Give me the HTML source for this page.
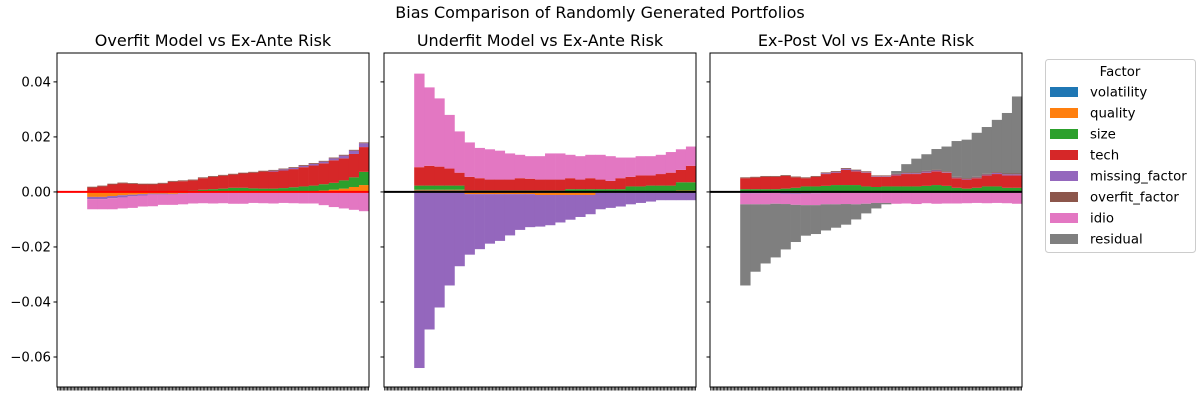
<!DOCTYPE html>
<html><head><meta charset="utf-8">
<style>
body{margin:0;background:#fff;}
svg text{font-family:"DejaVu Sans","Liberation Sans",sans-serif;fill:#000;}
</style></head>
<body>
<svg id="chart" width="1200" height="400" viewBox="0 0 1200 400" xmlns="http://www.w3.org/2000/svg">
<text x="600" y="18" font-size="16" text-anchor="middle">Bias Comparison of Randomly Generated Portfolios</text>
<g id="panels"></g>
<g id="legend"></g>
</svg>
<script>
// values in thousandths (x 0.001); 3 leading empty bars per panel
const factors = ["volatility","quality","size","tech","missing_factor","overfit_factor","idio","residual"];
const colors = ["#1f77b4","#ff7f0e","#2ca02c","#d62728","#9467bd","#8c564b","#e377c2","#7f7f7f"];
const yTicks = [0.04,0.02,0.00,-0.02,-0.04,-0.06];
const yTickLabels = ["0.04","0.02","0.00","−0.02","−0.04","−0.06"];
const panelTitles = ["Overfit Model vs Ex-Ante Risk","Underfit Model vs Ex-Ante Risk","Ex-Post Vol vs Ex-Ante Risk"];
const emptyBars = 3;

// Panel 1: Overfit
const p1_volatility = [0,0,0,0,0,0,-0.2,-0.2,-0.3,-0.2,0,0,0,0,0,0,0,0,0,0,0,0,0,0,0,0,0,0];
const p1_quality = [-1.8,-1.8,-1.5,-1.2,-1.0,-0.8,-0.4,-0.4,-0.4,-0.3,-0.2,0,0,0,0,0,0,0,0.2,0.2,0.2,0.2,0.3,0.5,0.8,1.2,1.8,2.5];
const p1_size = [0.2,0.2,0.2,0.2,0.2,0.2,0.2,0.2,0.2,0.3,0.5,0.8,1.0,1.2,1.5,1.5,1.3,1.2,1.0,1.2,1.5,1.8,2.0,2.3,2.5,3.0,3.5,4.8];
const p1_tech = [1.4,1.8,2.5,2.9,2.7,2.5,2.5,2.8,3.5,3.6,3.7,4.2,4.5,4.7,4.8,5.2,5.7,6.2,6.2,6.4,6.6,7.0,7.3,7.6,8.2,8.0,8.5,9.0];
const p1_missing = [-0.8,-0.8,-0.8,-0.8,-0.6,-0.5,-0.3,-0.3,-0.2,-0.2,0,0,0,0,0,0,0,0,0.3,0.4,0.4,0.5,0.6,0.6,0.7,1.0,1.2,1.4];
const p1_overfit = [0.3,0.3,0.3,0.3,0.3,0.3,0.3,0.3,0.3,0.3,0.3,0.3,0.3,0.3,0.3,0.3,0.3,0.3,0.3,0.3,0.3,0.3,0.3,0.3,0.3,0.3,0.3,0.3];
const p1_idio = [-3.7,-3.7,-4.0,-4.0,-4.2,-4.0,-4.3,-3.8,-3.8,-3.8,-4.0,-4.1,-4.2,-4.1,-4.3,-4.3,-4.0,-4.1,-4.2,-4.0,-4.1,-4.2,-4.2,-4.8,-5.5,-6.0,-6.5,-7.0];
const p1_residual = [0,0,0,0,0,0,0,0,0,0,0,0,0,0,0,0,0,0,0,0,0,0,0,0,0,0,0,0];

// Panel 2: Underfit
const p2_volatility = [0.5,0.5,0.5,0.5,0.5,0,0,0,0,0,0,0,-0.3,-0.3,-0.3,-0.3,-0.3,-0.3,-0.3,-0.3,-0.3,0,0,0,0,0,0,0];
const p2_quality = [0.3,0.3,0.3,0.3,0.3,-0.8,-0.8,-0.8,-0.8,-0.8,-0.8,-0.8,-0.8,-0.8,-0.8,-0.8,-0.8,-0.8,0,0,0,0,0,0.3,0.3,0.3,0.5,0.5];
const p2_size = [1.5,1.5,1.5,1.5,1.5,0.5,0.5,0.5,0.5,0.5,0.5,0.5,0.5,0.5,0.5,1.0,1.0,1.0,1.0,1.0,1.0,2.0,2.0,2.0,2.0,2.0,3.0,3.0];
const p2_tech = [6.7,7.2,6.9,6.2,4.7,5.0,4.5,4.0,4.0,4.0,4.5,4.3,4.0,4.0,4.0,4.0,3.5,4.0,3.5,3.0,4.0,3.5,4.0,3.7,4.2,4.7,4.5,6.0];
const p2_missing = [-64,-50,-42,-34,-27,-22,-20,-18,-17,-15,-13,-12,-11.5,-11,-10,-9,-8,-7,-6,-5.5,-5,-4.5,-4,-3.5,-3,-3,-3,-3];
const p2_overfit = [0,0,0,0,0,0,0,0,0,0,0,0,0,0,0,0,0,0,0,0,0,0,0,0,0,0,0,0];
const p2_idio = [34,28.5,24.8,19.5,15,12.5,11,11,10.5,9.5,8.5,8.2,8.5,9.5,9.5,8.5,8.5,8.5,9,9,7.5,7,7,7,7,7.5,7.5,7];
const p2_residual = [0,0,0,0,0,0,0,0,0,0,0,0,0,0,0,0,0,0,0,0,0,0,0,0,0,0,0,0];

// Panel 3: Ex-Post
const p3_volatility = [0,0,0,0,0,0,0,0,0,0,0,0,0,0,0,0,0,0,0,0,0,0,0,0,0,0,0,0];
const p3_quality = [0,0,0,0,-0.3,-0.4,-0.4,-0.3,0,0,0,0,0,0,0,0,0,0,0,0,0,0,0,0,0,0,0,0];
const p3_size = [1,1,1,1,1.2,1.5,2,2,2.2,2.5,2.5,2.5,2,1.8,2,2,2,2,2.2,2.5,2.2,1.5,1.2,1.5,2,2,1.5,1.5];
const p3_tech = [4,4.2,4.5,4.5,4.6,3.8,3,3.5,4.3,4.5,5.5,5,5,3.7,3.5,4,4.5,4.5,4.8,5,4.8,3.5,3.3,3.5,4,4.5,4.5,4.5];
const p3_missing = [-0.5,-0.5,-0.4,-0.3,-0.3,-0.3,-0.2,-0.2,0.3,0.3,0.4,0.3,0.2,0.2,0.2,0.3,0.3,0.3,0.4,0.3,0.2,0.2,0.2,0.2,0.3,0.4,0.4,0.4];
const p3_overfit = [0.3,0.3,0.3,0.3,0.3,0.3,0.3,0.3,0.3,0.3,0.3,0.3,0.3,0.3,0.3,0.3,0.3,0.3,0.3,0.3,0.3,0.3,0.3,0.3,0.3,0.3,0.3,0.3];
const p3_idio = [-4.0,-4.0,-4.1,-4.0,-3.8,-4.0,-4.2,-4.3,-4.5,-4.5,-4.4,-4.5,-4.3,-4.0,-4.0,-4.3,-4.2,-4.4,-4.1,-4.3,-4.2,-4.2,-4.1,-4.0,-4.1,-4.0,-4.1,-4.3];
const p3_residual = [-29.5,-24.5,-21.5,-19.5,-16.5,-13.5,-11.1,-10.5,-9.5,-8.5,-7.5,-5.5,-3.5,-2,-0.5,1,3,5,6,7.5,9,13,14,16,17,19,22,28];

const panelsData = [
  [p1_volatility,p1_quality,p1_size,p1_tech,p1_missing,p1_overfit,p1_idio,p1_residual],
  [p2_volatility,p2_quality,p2_size,p2_tech,p2_missing,p2_overfit,p2_idio,p2_residual],
  [p3_volatility,p3_quality,p3_size,p3_tech,p3_missing,p3_overfit,p3_idio,p3_residual]
];
const zeroColors = ["#ff0000","#000000","#000000"];

const NS = "http://www.w3.org/2000/svg";
const panelX = [57,384,710];
const panelW = 312, plotTop = 53, plotBottom = 387;
const yMin = -0.0709, yMax = 0.0505;
function yScale(v){ return plotBottom - (v - yMin) / (yMax - yMin) * (plotBottom - plotTop); }
function mk(tag, attrs, parent){ const e = document.createElementNS(NS, tag); for (const k in attrs) e.setAttribute(k, attrs[k]); parent.appendChild(e); return e; }

const panelsG = document.getElementById('panels');
panelsData.forEach((series, p) => {
  const g = mk('g', {}, panelsG);
  
  
  const x0 = panelX[p];
  const n = series[0].length;
  const total = n + emptyBars;
  const bw = panelW / total;
  function xScale(i){ return x0 + (i + emptyBars) * bw; }
  for (let i = 0; i < n; i++) {
    let pos = 0, neg = 0;
    series.forEach((arr, s) => {
      const v = arr[i] * 0.001;
      if (v === 0) return;
      let y1, y2;
      if (v > 0) { y1 = yScale(pos + v); y2 = yScale(pos); pos += v; }
      else { y1 = yScale(neg); y2 = yScale(neg + v); neg += v; }
      const r = mk('rect', {x: xScale(i).toFixed(2), y: y1.toFixed(2), width: (bw + 0.3).toFixed(2), height: Math.max(0, y2 - y1).toFixed(2), fill: colors[s]}, g);
      
      
    });
  }
  const zl = mk('line', {x1: x0, x2: x0 + panelW, y1: yScale(0), y2: yScale(0), stroke: zeroColors[p], 'stroke-width': 2}, g);
  
  
  const fr = mk('rect', {x: x0, y: plotTop, width: panelW, height: plotBottom - plotTop, fill: 'none', stroke: '#000', 'stroke-width': 1}, g);
  
  
  yTicks.forEach((t, k) => {
    const y = yScale(t);
    mk('line', {x1: x0 - 3.5, x2: x0, y1: y, y2: y, stroke: '#000', 'stroke-width': 1}, g);
    if (p === 0) {
      const tl = mk('text', {x: x0 - 6, y: y + 4.5, 'font-size': 13.3, 'text-anchor': 'end'}, g);
      tl.textContent = yTickLabels[k];
      
      
    }
  });
  let d = '';
  for (let x = x0 + 0.7; x < x0 + panelW; x += 1.4) d += 'M' + x.toFixed(2) + ' ' + plotBottom + 'v3.5';
  const xt = mk('path', {d: d, stroke: '#000', 'stroke-width': 0.8}, g);
  
  
  const tt = mk('text', {x: x0 + panelW/2, y: 46, 'font-size': 16, 'text-anchor': 'middle'}, g);
  tt.textContent = panelTitles[p];
  
  
});

const lg = document.getElementById('legend');
const box = mk('rect', {x: 1045.5, y: 59.5, width: 150, height: 193, rx: 3, fill: '#fff', stroke: '#ccc'}, lg);


const lt = mk('text', {x: 1120, y: 76, 'font-size': 13.3, 'text-anchor': 'middle'}, lg);
lt.textContent = 'Factor';


factors.forEach((f, i) => {
  const y = 92 + i * 21;
  const e = mk('g', {}, lg);
  
  
  mk('rect', {x: 1050, y: y - 5, width: 28, height: 10, fill: colors[i]}, e);
  const t = mk('text', {x: 1090, y: y + 4.5, 'font-size': 13.3}, e);
  t.textContent = f;
});
</script>
</body></html>
